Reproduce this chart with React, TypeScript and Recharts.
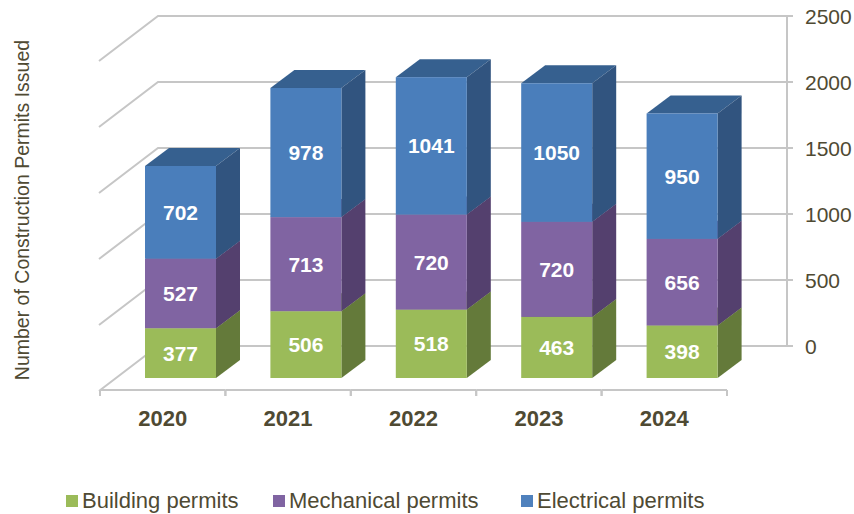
import { BarChart, Bar, XAxis, YAxis, CartesianGrid, Legend, LabelList } from "recharts";

const years = ["2020", "2021", "2022", "2023", "2024"];
const building = [377, 506, 518, 463, 398];
const mechanical = [527, 713, 720, 720, 656];
const electrical = [702, 978, 1041, 1050, 950];
const yTicks = [0, 500, 1000, 1500, 2000, 2500];
const legendOrder = ["Building permits", "Mechanical permits", "Electrical permits"];

const chartData = years.map((year, i) => ({
  year,
  building: building[i],
  mechanical: mechanical[i],
  electrical: electrical[i],
}));

const TEXT_COLOR = "#4F4A33";
const WALL_COLOR = "#C6C6C6";

// fake 3D offsets
const BAR_DX = 24;
const BAR_DY = 18;
const WALL_DX = 59;
const WALL_DY = 45;
const FLOOR_DROP = 13;
const SLOT = 125.4;
const AXIS_SHIFT = 18;

function box(front: string, side: string, top: string) {
  return (props: any) => {
    const { x, y, width, height } = props;
    const r = x + width;
    const b = y + height;
    return (
      <g>
        <polygon
          points={`${x},${y} ${x + BAR_DX},${y - BAR_DY} ${r + BAR_DX},${y - BAR_DY} ${r},${y}`}
          fill={top}
        />
        <polygon
          points={`${r},${y} ${r + BAR_DX},${y - BAR_DY} ${r + BAR_DX},${b - BAR_DY} ${r},${b}`}
          fill={side}
        />
        <rect x={x} y={y} width={width} height={height} fill={front} />
      </g>
    );
  };
}

// one grid line = left wall segment + back wall segment
function WallLine(props: any) {
  const { x, y, height, width, y1 } = props;
  const left = x - AXIS_SHIFT - 1;
  const frontY = y1 + FLOOR_DROP;
  const backY = frontY - WALL_DY;
  const backX = left + WALL_DX;
  const right = x + width + 42;
  const isBottom = Math.abs(y1 - (y + height)) < 1;
  return (
    <g fill="none" stroke={WALL_COLOR} strokeWidth={2}>
      <polyline points={`${left},${frontY} ${backX},${backY} ${right + 6},${backY}`} />
      {!isBottom && <line x1={right} y1={backY} x2={right} y2={backY + height / 5} />}
    </g>
  );
}

function YearTick(props: any) {
  const { x, y, payload } = props;
  const cx = x - AXIS_SHIFT;
  const axisY = y + 6;
  return (
    <g>
      <g stroke={WALL_COLOR} strokeWidth={2} fill="none">
        <line x1={cx - SLOT / 2} y1={axisY} x2={cx + SLOT / 2} y2={axisY} />
        <line x1={cx - SLOT / 2} y1={axisY} x2={cx - SLOT / 2} y2={axisY + 6} />
        <line x1={cx + SLOT / 2} y1={axisY} x2={cx + SLOT / 2} y2={axisY + 6} />
      </g>
      <text x={cx} y={axisY + 28} textAnchor="middle" dominantBaseline="central" fontSize={22} fontWeight="bold" fill={TEXT_COLOR}>
        {payload.value}
      </text>
    </g>
  );
}

function ValueTick(props: any) {
  const { y, payload } = props;
  return (
    <text x={805} y={y - 32} dominantBaseline="central" fontSize={21} fill={TEXT_COLOR}>
      {payload.value}
    </text>
  );
}

function LegendRow({ payload }: any) {
  const items = legendOrder.map((name) => (payload || []).find((p: any) => p.value === name)).filter(Boolean);
  const widths = [207, 248, 190];
  return (
    <div style={{ display: "flex", alignItems: "center", fontSize: 22, color: TEXT_COLOR, whiteSpace: "nowrap" }}>
      {items.map((item: any, i: number) => (
        <div key={item.value} style={{ display: "flex", alignItems: "center", gap: 4, width: widths[i] }}>
          <span style={{ width: 12, height: 12, background: item.color, display: "inline-block" }} />
          <span>{item.value}</span>
        </div>
      ))}
    </div>
  );
}

const labelStyle = { fill: "#FFFFFF", fontSize: 21, fontWeight: "bold" };

export default function App() {
  return (
    <div style={{ position: "absolute", left: 0, top: 0, width: 854, height: 514, background: "#FFFFFF", fontFamily: "'Liberation Sans', Arial, sans-serif" }}>
      <BarChart
        width={854}
        height={514}
        data={chartData}
        barSize={71}
        margin={{ top: 48, right: 49, bottom: 106, left: 118 }}
      >
        <CartesianGrid vertical={false} horizontal={(p: any) => <WallLine key={p.key} {...p} />} />
        <XAxis dataKey="year" height={30} axisLine={false} tickLine={false} interval={0} tick={YearTick} tickMargin={0} />
        <YAxis orientation="right" width={60} domain={[0, 2500]} ticks={yTicks} interval={0} axisLine={false} tickLine={false} tick={ValueTick} />
        <Bar dataKey="building" name="Building permits" stackId="a" fill="#9BBB59" shape={box("#9BBB59", "#647A3A", "#7A9346")} isAnimationActive={false}>
          <LabelList dataKey="building" position="center" style={labelStyle} />
        </Bar>
        <Bar dataKey="mechanical" name="Mechanical permits" stackId="a" fill="#8064A2" shape={box("#8064A2", "#54406E", "#654F82")} isAnimationActive={false}>
          <LabelList dataKey="mechanical" position="center" style={labelStyle} />
        </Bar>
        <Bar dataKey="electrical" name="Electrical permits" stackId="a" fill="#4F81BD" shape={box("#4A7EBB", "#31547F", "#36608F")} isAnimationActive={false}>
          <LabelList dataKey="electrical" position="center" style={labelStyle} />
        </Bar>
        <Legend
          layout="horizontal"
          align="center"
          verticalAlign="middle"
          content={LegendRow}
          wrapperStyle={{ left: 66, top: 488, width: "auto" }}
        />
        <text x={22} y={210} transform="rotate(-90 22 210)" textAnchor="middle" dominantBaseline="central" fontSize={19.5} fill={TEXT_COLOR}>
          Number of Construction Permits Issued
        </text>
      </BarChart>
    </div>
  );
}
